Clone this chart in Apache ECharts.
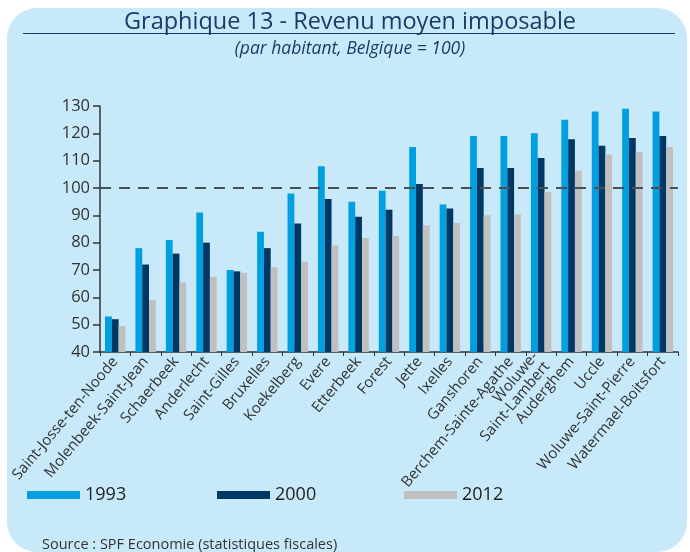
<!DOCTYPE html>
<html lang="fr">
<head>
    <meta charset="utf-8">
    <title>Graphique 13 - Revenu moyen imposable</title>
    <script src="https://cdn.jsdelivr.net/npm/echarts@6/dist/echarts.min.js"></script>
    <style>
        html, body { margin: 0; padding: 0; background: #fff; }
        #chart { width: 690px; height: 552px; }
    </style>
</head>
<body>
<div id="chart"></div>
<script type="text/javascript">
    var communes = ['Saint-Josse-ten-Noode', 'Molenbeek-Saint-Jean', 'Schaerbeek', 'Anderlecht', 'Saint-Gilles',
        'Bruxelles', 'Koekelberg', 'Evere', 'Etterbeek', 'Forest', 'Jette', 'Ixelles', 'Ganshoren',
        'Berchem-Sainte-Agathe', 'Woluwe-\nSaint-Lambert', 'Auderghem', 'Uccle', 'Woluwe-Saint-Pierre',
        'Watermael-Boitsfort'];
    var v1993 = [53, 78, 81, 91, 70, 84, 98, 108, 95, 99, 115, 94, 119, 119, 120, 125, 128, 129, 128];
    var v2000 = [52, 72, 76, 80, 69.5, 78, 87, 96, 89.5, 92, 101.5, 92.5, 107.3, 107.3, 111, 117.8, 115.5, 118.3, 119];
    var v2012 = [49.5, 59, 65.5, 67.5, 69, 71, 73, 79, 81.7, 82.5, 86.3, 87.2, 90, 90.3, 98.5, 106.3, 112.3, 113.2, 115];
    var reference = 100;

    var font = "'Open Sans', sans-serif";
    var navy = '#1b3a66';

    var myChart = echarts.init(document.getElementById('chart'));

    var option = {
        animation: false,
        textStyle: { fontFamily: font },
        graphic: [
            { type: 'rect', z: -10, shape: { x: 7, y: 8, width: 680, height: 544, r: 30 },
              style: { fill: '#c7e9f9' } },
            // titre souligné
            { type: 'line', shape: { x1: 23, y1: 33.5, x2: 675, y2: 33.5 },
              style: { stroke: navy, lineWidth: 1 } },
            { type: 'text', x: 350, y: 34,
              style: { text: 'Graphique 13 - Revenu moyen imposable', fill: navy, align: 'center',
                       verticalAlign: 'bottom', font: '23.5px ' + font } },
            { type: 'text', x: 350, y: 58,
              style: { text: '(par habitant, Belgique = 100)', fill: navy, align: 'center',
                       verticalAlign: 'bottom', font: 'italic 17.5px ' + font } },
            { type: 'text', x: 42, y: 552,
              style: { text: 'Source : SPF Economie (statistiques fiscales)', fill: '#333',
                       verticalAlign: 'bottom', font: '14.5px ' + font } }
        ],
        legend: [
            { data: ['1993'], left: 27, top: 486 },
            { data: ['2000'], left: 217, top: 486 },
            { data: ['2012'], left: 404, top: 486 }
        ].map(function (l) {
            l.icon = 'rect'; l.itemWidth = 53; l.itemHeight = 8; l.padding = 0;
            l.textStyle = { fontFamily: font, fontSize: 18, color: '#222' };
            return l;
        }),
        grid: { left: 100, right: 12, top: 106, bottom: 200 },
        xAxis: {
            type: 'category',
            data: communes,
            axisLine: { lineStyle: { color: '#333', width: 1.5 } },
            axisTick: { show: true, length: 4, lineStyle: { color: '#333' } },
            axisLabel: { rotate: 50, interval: 0, fontSize: 15, color: '#333', margin: 7, lineHeight: 15 }
        },
        yAxis: {
            type: 'value',
            min: 40, max: 130, interval: 10,
            splitLine: { show: false },
            axisLine: { show: true, lineStyle: { color: '#333', width: 1.5 } },
            axisTick: { show: true, inside: false, length: 7, lineStyle: { color: '#333', width: 1.5 } },
            axisLabel: { fontSize: 16.5, color: '#333', margin: 10 }
        },
        series: [
            { name: '1993', type: 'bar', data: v1993, barGap: 0, barCategoryGap: '33%',
              itemStyle: { color: '#009fe0' },
              markLine: {
                  symbol: 'none', silent: true, label: { show: false },
                  lineStyle: { color: '#4a4f55', type: [11, 8], width: 2 },
                  data: [{ yAxis: reference }]
              } },
            { name: '2000', type: 'bar', data: v2000, itemStyle: { color: '#003865' } },
            { name: '2012', type: 'bar', data: v2012, itemStyle: { color: '#c0c0c0' } }
        ]
    };

    myChart.setOption(option);
</script>
</body>
</html>
